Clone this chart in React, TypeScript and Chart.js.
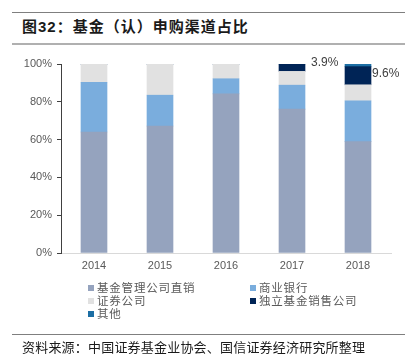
import React, { useEffect, useRef } from "react";
import { Chart, registerables } from "chart.js";

Chart.register(...registerables);

const categories = ["2014", "2015", "2016", "2017", "2018"];
const seriesNames = ["基金管理公司直销", "商业银行", "证券公司", "独立基金销售公司", "其他"];
const directSales = [64, 67.2, 84.2, 76.1, 58.9];
const banks = [26.3, 16.3, 8.0, 12.7, 21.6];
const securities = [9.7, 16.5, 7.8, 7.3, 8.5];
const independent = [0, 0, 0, 3.9, 9.6];
const others = [0, 0, 0, 0, 1.4];
const seriesColors = ["#95A3BE", "#7AADDD", "#E1E1E1", "#002456", "#1C6EA4"];
const yTicks = [0, 20, 40, 60, 80, 100];
const annotationTexts = [null, null, null, "3.9%", "9.6%"];
const annotationOffsets = [null, null, null, { dx: 6, dy: -1 }, { dx: 1, dy: 7 }];

const FONT = "'Liberation Sans', Arial, sans-serif";
const CJK = "'Noto Sans CJK SC', sans-serif";

const labelPlugin = {
  id: "segLabels",
  afterDatasetsDraw(chart: any) {
    const ctx = chart.ctx;
    const meta = chart.getDatasetMeta(3);
    ctx.save();
    ctx.font = `12px ${FONT}`;
    ctx.fillStyle = "#404040";
    ctx.textAlign = "left";
    ctx.textBaseline = "middle";
    annotationTexts.forEach((t, i) => {
      if (!t) return;
      const bar: any = meta.data[i];
      const off = annotationOffsets[i]!;
      ctx.fillText(t, bar.x + bar.width / 2 + off.dx, bar.y + off.dy);
    });
    ctx.restore();
  },
};

export default function App() {
  const ref = useRef<HTMLCanvasElement>(null);
  useEffect(() => {
    const data = [directSales, banks, securities, independent, others];
    const chart = new Chart(ref.current!, {
      type: "bar",
      data: {
        labels: categories,
        datasets: seriesNames.map((n, i) => ({
          label: n,
          data: data[i],
          backgroundColor: seriesColors[i],
          borderWidth: 0,
          barThickness: 26,
          stack: "s",
        })),
      },
      options: {
        animation: false,
        responsive: false,
        maintainAspectRatio: false,
        devicePixelRatio: 1,
        layout: { padding: { left: 21, right: 17, top: 64, bottom: 91 } },
        plugins: { legend: { display: false }, tooltip: { enabled: false } },
        scales: {
          x: {
            stacked: true,
            grid: { display: false, drawTicks: false },
            border: { color: "#D9D9D9", width: 1 },
            ticks: { color: "#595959", font: { family: FONT, size: 11 }, padding: 6 },
            afterFit: (s: any) => { s.height = 20; },
          },
          y: {
            stacked: true,
            min: 0,
            max: 100,
            afterBuildTicks: (s: any) => { s.ticks = yTicks.map((v) => ({ value: v })); },
            grid: { drawOnChartArea: false, drawTicks: true, tickLength: 4, color: "#404040" },
            border: { color: "#404040", width: 1 },
            ticks: {
              color: "#595959",
              font: { family: FONT, size: 11 },
              padding: 5,
              callback: (v: any) => v + "%",
            },
            afterFit: (s: any) => { s.width = 40; },
          },
        },
      },
      plugins: [labelPlugin],
    });
    return () => chart.destroy();
  }, []);

  const legendItem = (i: number, left: number, top: number) => (
    <div key={i} style={{ position: "absolute", left, top, display: "flex", alignItems: "center", fontFamily: CJK, fontSize: 11.5, letterSpacing: "0.8px", color: "#595959", whiteSpace: "nowrap", lineHeight: "13px" }}>
      <span style={{ display: "inline-block", width: 6, height: 6, background: seriesColors[i], marginRight: 3 }} />
      {seriesNames[i]}
    </div>
  );

  return (
    <div style={{ position: "absolute", left: 0, top: 0, width: 408, height: 364, background: "#fff", overflow: "hidden" }}>
      <div style={{ position: "absolute", left: 12, top: 12, width: 393, height: 1, background: "#7f7f7f" }} />
      <div style={{ position: "absolute", left: 22, top: 15, fontFamily: CJK, fontSize: 15, letterSpacing: "1px", fontWeight: "bold", color: "#1a1a1a", lineHeight: "22px", whiteSpace: "nowrap" }}>
        图<span style={{ fontFamily: FONT }}>32</span>：基金（认）申购渠道占比
      </div>
      <div style={{ position: "absolute", left: 12, top: 43, width: 393, height: 2, background: "#b0b0b0" }} />
      <canvas ref={ref} width={408} height={364} style={{ position: "absolute", left: 0, top: 0 }} />
      {legendItem(0, 88, 281)}
      {legendItem(1, 250, 281)}
      {legendItem(2, 88, 294)}
      {legendItem(3, 250, 294)}
      {legendItem(4, 88, 307)}
      <div style={{ position: "absolute", left: 12, top: 334, width: 393, height: 1, background: "#7f7f7f" }} />
      <div style={{ position: "absolute", left: 22, top: 338, fontFamily: CJK, fontSize: 13, letterSpacing: "0.2px", color: "#1a1a1a", lineHeight: "18px", whiteSpace: "nowrap" }}>
        资料来源：中国证券基金业协会、国信证券经济研究所整理
      </div>
    </div>
  );
}
